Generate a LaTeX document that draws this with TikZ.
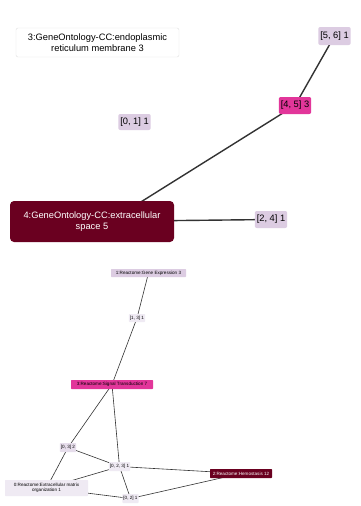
\documentclass[tikz,border=0pt]{standalone}
\usepackage{fontspec}
\setmainfont{Liberation Sans}
\usetikzlibrary{backgrounds}
\definecolor{lav}{HTML}{DCCCE2}
\definecolor{palelav}{HTML}{E6DDEB}
\definecolor{paler}{HTML}{EFEAF3}
\definecolor{hot}{HTML}{E2369A}
\definecolor{maroon}{HTML}{6A0020}
\definecolor{edgegrey}{HTML}{333333}
\tikzset{
  big/.style={rounded corners=2pt, inner sep=2pt, font=\fontsize{9.3}{11}\selectfont, align=center},
  small/.style={rounded corners=0.6pt, inner sep=1pt, font=\fontsize{4.6}{5.4}\selectfont, align=center},
  bigedge/.style={draw=edgegrey, line width=1.4pt},
  smalledge/.style={draw=edgegrey, line width=0.6pt},
}
\begin{document}
\begin{tikzpicture}[x=1pt,y=-1pt]
\useasboundingbox (0,0) rectangle (360,506);
\begin{scope}[on background layer]
\fill[white] (0,0) rectangle (360,506);
\end{scope}

% upper graph: GeneOntology-CC clusters
\node[big, draw=black!12, fill=white, minimum width=163pt, minimum height=29pt] (er) at (97.5,42.5)
  {3:GeneOntology-CC:endoplasmic\\reticulum membrane 3};
\node[big, fill=lav, minimum height=18pt] (t56) at (334.5,36) {[5, 6] 1};
\node[big, fill=hot, minimum height=17pt] (t45) at (295,105.5) {[4, 5] 3};
\node[big, fill=lav, minimum height=16pt] (t01) at (134.5,122) {[0, 1] 1};
\node[big, fill=maroon, text=white, minimum width=164pt, minimum height=41pt, rounded corners=4pt] (ecs) at (92,221.5)
  {4:GeneOntology-CC:extracellular\\space 5};
\node[big, fill=lav, minimum height=17pt] (t24) at (271,219.5) {[2, 4] 1};

\begin{scope}[on background layer]
\draw[bigedge] (t56.center) -- (t45.center);
\draw[bigedge] (t45.center) -- (128,210);
\draw[bigedge] (ecs.center) -- (t24.center);
\end{scope}

% lower graph: Reactome clusters
\node[small, fill=lav, minimum width=75pt, minimum height=8pt] (ge) at (148.5,273) {1:Reactome:Gene Expression 3};
\node[small, fill=paler, minimum height=8pt] (r13) at (137,318) {[1, 3] 1};
\node[small, fill=hot, minimum width=82pt, minimum height=9pt] (st) at (112,384.5) {3:Reactome:Signal Transduction 7};
\node[small, fill=palelav, minimum height=9pt] (r03) at (68,447.5) {[0, 3] 2};
\node[small, fill=paler, minimum height=9pt] (r023) at (119.5,466.5) {[0, 2, 3] 1};
\node[small, fill=paler, minimum width=83pt, minimum height=16pt] (ecm) at (46.5,488)
  {0:Reactome:Extracellular matrix\\organization 1};
\node[small, fill=paler, minimum height=9pt] (r02) at (130.5,498.5) {[0, 2] 1};
\node[small, fill=maroon, text=white, minimum width=62pt, minimum height=9pt] (hem) at (241,473.5) {2:Reactome:Hemostasis 12};

\begin{scope}[on background layer]
\draw[smalledge] (ge.center) -- (r13.center);
\draw[smalledge] (r13.center) -- (st.center);
\draw[smalledge] (st.center) -- (r03.center);
\draw[smalledge] (st.center) -- (r023.center);
\draw[smalledge] (r03.center) -- (r023.center);
\draw[smalledge] (r03.center) -- (ecm.center);
\draw[smalledge] (r023.center) -- (ecm.center);
\draw[smalledge] (r023.center) -- (hem.center);
\draw[smalledge] (r023.center) -- (r02.center);
\draw[smalledge] (ecm.center) -- (r02.center);
\draw[smalledge] (r02.center) -- (hem.center);
\end{scope}
\end{tikzpicture}
\end{document}
